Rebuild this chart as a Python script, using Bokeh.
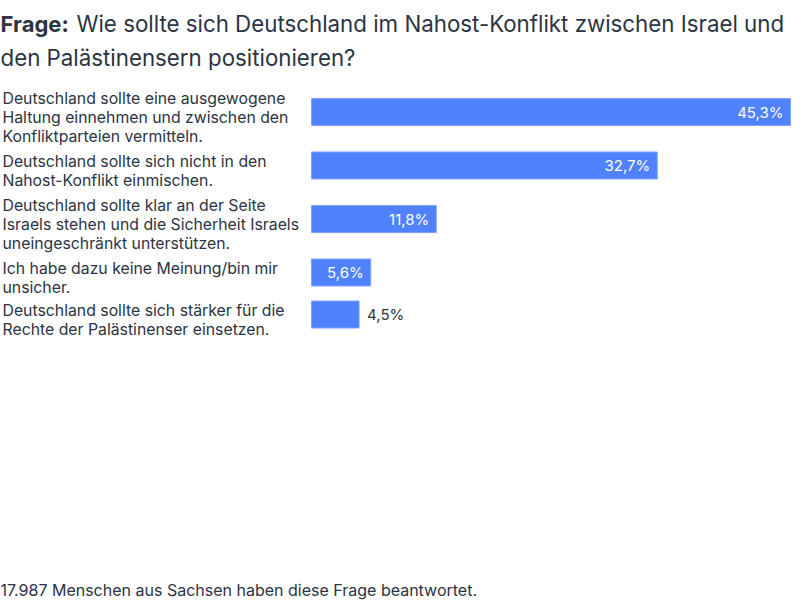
from bokeh.plotting import figure
from bokeh.models import Range1d, ColumnDataSource
from bokeh.core.properties import value
from bokeh.embed import file_html
from bokeh.resources import INLINE

# ---- data ----
title_bold = "Frage:"
title_lines = ["Wie sollte sich Deutschland im Nahost-Konflikt zwischen Israel und",
               "den Palästinensern positionieren?"]
categories = [
    "Deutschland sollte eine ausgewogene\nHaltung einnehmen und zwischen den\nKonfliktparteien vermitteln.",
    "Deutschland sollte sich nicht in den\nNahost-Konflikt einmischen.",
    "Deutschland sollte klar an der Seite\nIsraels stehen und die Sicherheit Israels\nuneingeschränkt unterstützen.",
    "Ich habe dazu keine Meinung/bin mir\nunsicher.",
    "Deutschland sollte sich stärker für die\nRechte der Palästinenser einsetzen.",
]
values = [45.3, 32.7, 11.8, 5.6, 4.5]
value_labels = ["45,3%", "32,7%", "11,8%", "5,6%", "4,5%"]
footer = "17.987 Menschen aus Sachsen haben diese Frage beantwortet."

# ---- style / layout ----
FONT = "Inter"
TEXT = "#2b3442"
BAR = "#5081ff"
W, H = 792, 600
BAR_LEFT_PX = 311
BAR_MAX_PX = 479
LINE_H = 19

k = BAR_MAX_PX / max(values)           # px per percent
x0 = -BAR_LEFT_PX / k
x1 = x0 + W / k
px = 1 / k                              # one pixel in data units

p = figure(width=W, height=H, output_backend="svg", toolbar_location=None,
           x_range=Range1d(x0, x1), y_range=Range1d(H, 0),
           min_border=0, min_border_left=0, min_border_right=0,
           min_border_top=0, min_border_bottom=0)
p.axis.visible = False
p.grid.visible = False
p.outline_line_color = None
p.background_fill_color = "white"
p.border_fill_color = "white"

# row positions derived from the number of label lines
nlines = [c.count("\n") + 1 for c in categories]
row_h = [23 * n - 4 for n in nlines]
centers = []
y = 79
for h in row_h:
    centers.append(y + h / 2)
    y += h

src = ColumnDataSource(dict(y=centers, v=values, lab=value_labels))
p.hbar(y="y", left=0, right="v", height=27, source=src,
       fill_color=BAR, line_color="#7ea2ff", line_width=1)

# category labels, one glyph per line
lx, ly, lt = [], [], []
for c, cy in zip(categories, centers):
    parts = c.split("\n")
    n = len(parts)
    for i, t in enumerate(parts):
        lx.append(x0 + 2 * px)
        ly.append(cy + (i - (n - 1) / 2) * LINE_H + 5)
        lt.append(t)
p.text(x=lx, y=ly, text=lt, text_font=value(FONT), text_font_size="15.8px",
       text_color=TEXT, text_baseline="alphabetic", text_align="left")

inside = [v >= 5 for v in values]
def subset(flag):
    return ColumnDataSource(dict(
        y=[c for c, i in zip(centers, inside) if i == flag],
        v=[v for v, i in zip(values, inside) if i == flag],
        lab=[l for l, i in zip(value_labels, inside) if i == flag]))
p.text(x="v", y="y", text="lab", source=subset(True), x_offset=-7, text_font=value(FONT),
       text_font_size="15px", text_color="white", text_baseline="middle", text_align="right")
p.text(x="v", y="y", text="lab", source=subset(False), x_offset=8, text_font=value(FONT),
       text_font_size="15px", text_color=TEXT, text_baseline="middle", text_align="left")

# title
p.text(x=[x0], y=[23], text=[title_bold], text_font=value(FONT), text_font_size="22px",
       text_font_style="bold", text_color=TEXT, text_baseline="alphabetic")
p.text(x=[x0], y=[23], x_offset=76, text=[title_lines[0]], text_font=value(FONT),
       text_font_size="22.3px", text_color=TEXT, text_baseline="alphabetic")
p.text(x=[x0], y=[56.5], text=[title_lines[1]], text_font=value(FONT),
       text_font_size="22.3px", text_color=TEXT, text_baseline="alphabetic")

# footer
p.text(x=[x0], y=[589], text=[footer], text_font=value(FONT), text_font_size="16px",
       text_color=TEXT, text_baseline="alphabetic")

open("out.html", "w").write(file_html(p, INLINE))
